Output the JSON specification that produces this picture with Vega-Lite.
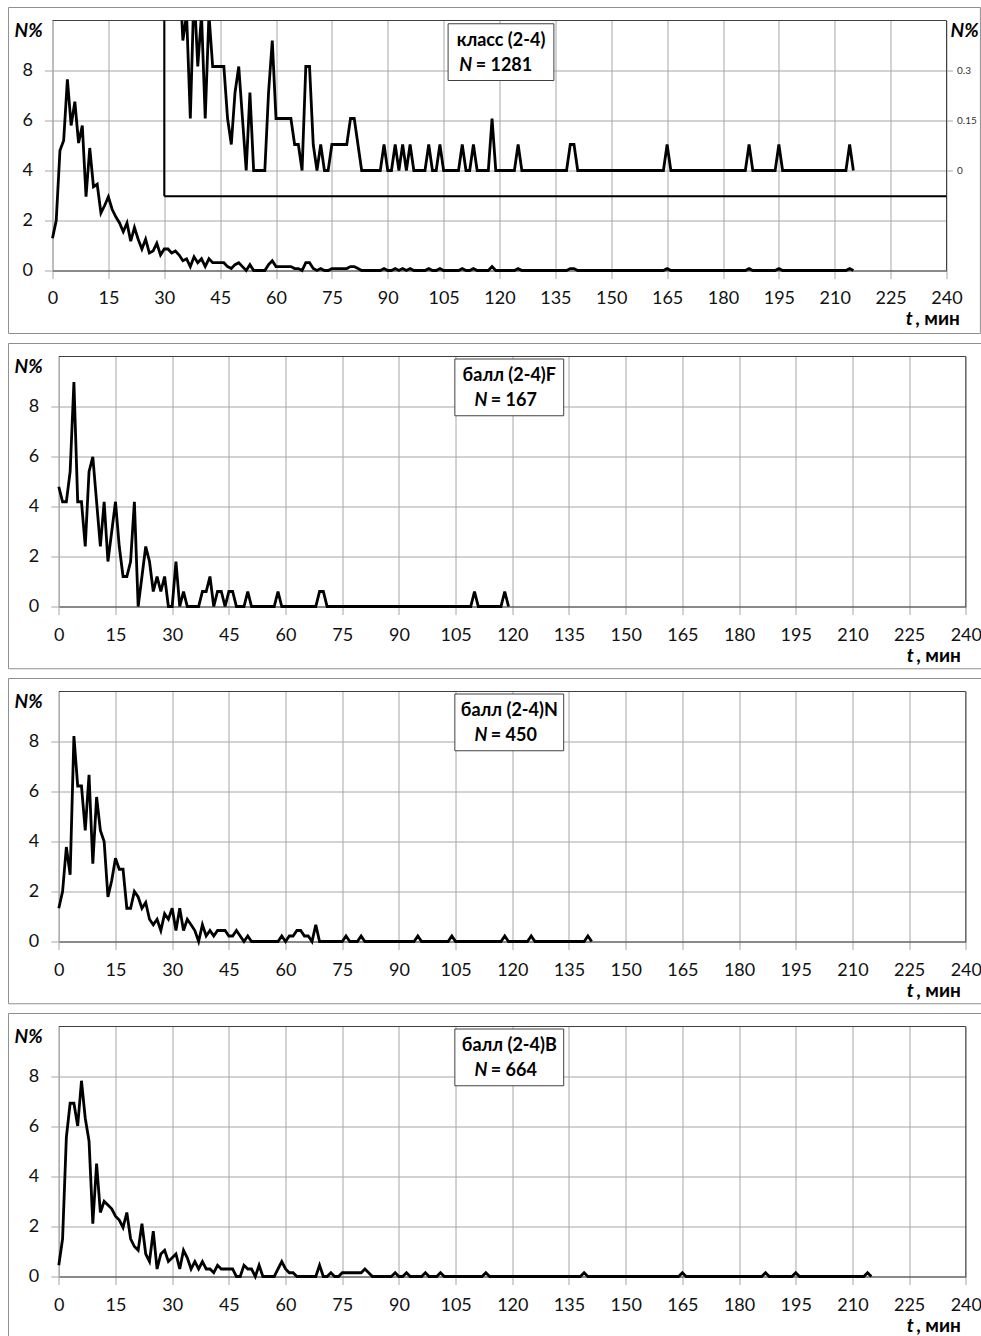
{
  "$schema": "https://vega.github.io/schema/vega-lite/v6.json",
  "padding": {"left": 7.5, "top": 6.5, "right": 0, "bottom": 0},
  "background": "white",
  "config": {
    "view": {"stroke": null},
    "font": "Lato",
    "text": {"font": "Lato", "fontWeight": "bold", "fontSize": 18, "color": "#000", "baseline": "middle"}
  },
  "datasets": {
    "p1": [{"t":0,"v":1.29},{"t":1,"v":2.0},{"t":2,"v":4.8},{"t":3,"v":5.2},{"t":4,"v":7.65},{"t":5,"v":5.8},{"t":6,"v":6.75},{"t":7,"v":5.1},{"t":8,"v":5.8},{"t":9,"v":2.95},{"t":10,"v":4.9},{"t":11,"v":3.35},{"t":12,"v":3.45},{"t":13,"v":2.3},{"t":14,"v":2.6},{"t":15,"v":2.95},{"t":16,"v":2.45},{"t":17,"v":2.15},{"t":18,"v":1.9},{"t":19,"v":1.55},{"t":20,"v":1.9},{"t":21,"v":1.17},{"t":22,"v":1.72},{"t":23,"v":1.25},{"t":24,"v":0.86},{"t":25,"v":1.25},{"t":26,"v":0.7},{"t":27,"v":0.78},{"t":28,"v":1.09},{"t":29,"v":0.62},{"t":30,"v":0.86},{"t":31,"v":0.86},{"t":32,"v":0.7},{"t":33,"v":0.78},{"t":34,"v":0.62},{"t":35,"v":0.39},{"t":36,"v":0.468},{"t":37,"v":0.156},{"t":38,"v":0.546},{"t":39,"v":0.312},{"t":40,"v":0.468},{"t":41,"v":0.156},{"t":42,"v":0.468},{"t":43,"v":0.312},{"t":44,"v":0.312},{"t":45,"v":0.312},{"t":46,"v":0.312},{"t":47,"v":0.156},{"t":48,"v":0.078},{"t":49,"v":0.234},{"t":50,"v":0.312},{"t":51,"v":0.156},{"t":52,"v":0},{"t":53,"v":0.234},{"t":54,"v":0},{"t":55,"v":0},{"t":56,"v":0},{"t":57,"v":0},{"t":58,"v":0.234},{"t":59,"v":0.39},{"t":60,"v":0.156},{"t":61,"v":0.156},{"t":62,"v":0.156},{"t":63,"v":0.156},{"t":64,"v":0.156},{"t":65,"v":0.078},{"t":66,"v":0.078},{"t":67,"v":0},{"t":68,"v":0.312},{"t":69,"v":0.312},{"t":70,"v":0.078},{"t":71,"v":0},{"t":72,"v":0.078},{"t":73,"v":0},{"t":74,"v":0},{"t":75,"v":0.078},{"t":76,"v":0.078},{"t":77,"v":0.078},{"t":78,"v":0.078},{"t":79,"v":0.078},{"t":80,"v":0.156},{"t":81,"v":0.156},{"t":82,"v":0.078},{"t":83,"v":0},{"t":84,"v":0},{"t":85,"v":0},{"t":86,"v":0},{"t":87,"v":0},{"t":88,"v":0},{"t":89,"v":0.078},{"t":90,"v":0},{"t":91,"v":0},{"t":92,"v":0.078},{"t":93,"v":0},{"t":94,"v":0.078},{"t":95,"v":0},{"t":96,"v":0.078},{"t":97,"v":0},{"t":98,"v":0},{"t":99,"v":0},{"t":100,"v":0},{"t":101,"v":0.078},{"t":102,"v":0},{"t":103,"v":0},{"t":104,"v":0.078},{"t":105,"v":0},{"t":106,"v":0},{"t":107,"v":0},{"t":108,"v":0},{"t":109,"v":0},{"t":110,"v":0.078},{"t":111,"v":0},{"t":112,"v":0},{"t":113,"v":0.078},{"t":114,"v":0},{"t":115,"v":0},{"t":116,"v":0},{"t":117,"v":0},{"t":118,"v":0.156},{"t":119,"v":0},{"t":120,"v":0},{"t":121,"v":0},{"t":122,"v":0},{"t":123,"v":0},{"t":124,"v":0},{"t":125,"v":0.078},{"t":126,"v":0},{"t":127,"v":0},{"t":128,"v":0},{"t":129,"v":0},{"t":130,"v":0},{"t":131,"v":0},{"t":132,"v":0},{"t":133,"v":0},{"t":134,"v":0},{"t":135,"v":0},{"t":136,"v":0},{"t":137,"v":0},{"t":138,"v":0},{"t":139,"v":0.078},{"t":140,"v":0.078},{"t":141,"v":0},{"t":142,"v":0},{"t":143,"v":0},{"t":144,"v":0},{"t":145,"v":0},{"t":146,"v":0},{"t":147,"v":0},{"t":148,"v":0},{"t":149,"v":0},{"t":150,"v":0},{"t":151,"v":0},{"t":152,"v":0},{"t":153,"v":0},{"t":154,"v":0},{"t":155,"v":0},{"t":156,"v":0},{"t":157,"v":0},{"t":158,"v":0},{"t":159,"v":0},{"t":160,"v":0},{"t":161,"v":0},{"t":162,"v":0},{"t":163,"v":0},{"t":164,"v":0},{"t":165,"v":0.078},{"t":166,"v":0},{"t":167,"v":0},{"t":168,"v":0},{"t":169,"v":0},{"t":170,"v":0},{"t":171,"v":0},{"t":172,"v":0},{"t":173,"v":0},{"t":174,"v":0},{"t":175,"v":0},{"t":176,"v":0},{"t":177,"v":0},{"t":178,"v":0},{"t":179,"v":0},{"t":180,"v":0},{"t":181,"v":0},{"t":182,"v":0},{"t":183,"v":0},{"t":184,"v":0},{"t":185,"v":0},{"t":186,"v":0},{"t":187,"v":0.078},{"t":188,"v":0},{"t":189,"v":0},{"t":190,"v":0},{"t":191,"v":0},{"t":192,"v":0},{"t":193,"v":0},{"t":194,"v":0},{"t":195,"v":0.078},{"t":196,"v":0},{"t":197,"v":0},{"t":198,"v":0},{"t":199,"v":0},{"t":200,"v":0},{"t":201,"v":0},{"t":202,"v":0},{"t":203,"v":0},{"t":204,"v":0},{"t":205,"v":0},{"t":206,"v":0},{"t":207,"v":0},{"t":208,"v":0},{"t":209,"v":0},{"t":210,"v":0},{"t":211,"v":0},{"t":212,"v":0},{"t":213,"v":0},{"t":214,"v":0.078},{"t":215,"v":0}],
    "p2": [{"t":0,"v":4.79},{"t":1,"v":4.19},{"t":2,"v":4.19},{"t":3,"v":5.39},{"t":4,"v":8.98},{"t":5,"v":4.19},{"t":6,"v":4.19},{"t":7,"v":2.4},{"t":8,"v":5.39},{"t":9,"v":5.99},{"t":10,"v":4.19},{"t":11,"v":2.4},{"t":12,"v":4.19},{"t":13,"v":1.8},{"t":14,"v":2.99},{"t":15,"v":4.19},{"t":16,"v":2.4},{"t":17,"v":1.2},{"t":18,"v":1.2},{"t":19,"v":1.8},{"t":20,"v":4.19},{"t":21,"v":0},{"t":22,"v":1.2},{"t":23,"v":2.4},{"t":24,"v":1.8},{"t":25,"v":0.6},{"t":26,"v":1.2},{"t":27,"v":0.6},{"t":28,"v":1.2},{"t":29,"v":0},{"t":30,"v":0},{"t":31,"v":1.8},{"t":32,"v":0},{"t":33,"v":0.6},{"t":34,"v":0},{"t":35,"v":0},{"t":36,"v":0},{"t":37,"v":0},{"t":38,"v":0.6},{"t":39,"v":0.6},{"t":40,"v":1.2},{"t":41,"v":0},{"t":42,"v":0.6},{"t":43,"v":0.6},{"t":44,"v":0},{"t":45,"v":0.6},{"t":46,"v":0.6},{"t":47,"v":0},{"t":48,"v":0},{"t":49,"v":0},{"t":50,"v":0.6},{"t":51,"v":0},{"t":52,"v":0},{"t":53,"v":0},{"t":54,"v":0},{"t":55,"v":0},{"t":56,"v":0},{"t":57,"v":0},{"t":58,"v":0.6},{"t":59,"v":0},{"t":60,"v":0},{"t":61,"v":0},{"t":62,"v":0},{"t":63,"v":0},{"t":64,"v":0},{"t":65,"v":0},{"t":66,"v":0},{"t":67,"v":0},{"t":68,"v":0},{"t":69,"v":0.6},{"t":70,"v":0.6},{"t":71,"v":0},{"t":72,"v":0},{"t":73,"v":0},{"t":74,"v":0},{"t":75,"v":0},{"t":76,"v":0},{"t":77,"v":0},{"t":78,"v":0},{"t":79,"v":0},{"t":80,"v":0},{"t":81,"v":0},{"t":82,"v":0},{"t":83,"v":0},{"t":84,"v":0},{"t":85,"v":0},{"t":86,"v":0},{"t":87,"v":0},{"t":88,"v":0},{"t":89,"v":0},{"t":90,"v":0},{"t":91,"v":0},{"t":92,"v":0},{"t":93,"v":0},{"t":94,"v":0},{"t":95,"v":0},{"t":96,"v":0},{"t":97,"v":0},{"t":98,"v":0},{"t":99,"v":0},{"t":100,"v":0},{"t":101,"v":0},{"t":102,"v":0},{"t":103,"v":0},{"t":104,"v":0},{"t":105,"v":0},{"t":106,"v":0},{"t":107,"v":0},{"t":108,"v":0},{"t":109,"v":0},{"t":110,"v":0.6},{"t":111,"v":0},{"t":112,"v":0},{"t":113,"v":0},{"t":114,"v":0},{"t":115,"v":0},{"t":116,"v":0},{"t":117,"v":0},{"t":118,"v":0.6},{"t":119,"v":0}],
    "p3": [{"t":0,"v":1.33},{"t":1,"v":2.0},{"t":2,"v":3.78},{"t":3,"v":2.67},{"t":4,"v":8.22},{"t":5,"v":6.22},{"t":6,"v":6.22},{"t":7,"v":4.44},{"t":8,"v":6.67},{"t":9,"v":3.11},{"t":10,"v":5.78},{"t":11,"v":4.44},{"t":12,"v":4.0},{"t":13,"v":1.78},{"t":14,"v":2.44},{"t":15,"v":3.33},{"t":16,"v":2.89},{"t":17,"v":2.89},{"t":18,"v":1.33},{"t":19,"v":1.33},{"t":20,"v":2.0},{"t":21,"v":1.78},{"t":22,"v":1.33},{"t":23,"v":1.56},{"t":24,"v":0.89},{"t":25,"v":0.67},{"t":26,"v":0.89},{"t":27,"v":0.44},{"t":28,"v":1.11},{"t":29,"v":0.89},{"t":30,"v":1.33},{"t":31,"v":0.44},{"t":32,"v":1.33},{"t":33,"v":0.44},{"t":34,"v":0.89},{"t":35,"v":0.67},{"t":36,"v":0.44},{"t":37,"v":0},{"t":38,"v":0.67},{"t":39,"v":0.22},{"t":40,"v":0.44},{"t":41,"v":0.22},{"t":42,"v":0.44},{"t":43,"v":0.44},{"t":44,"v":0.44},{"t":45,"v":0.22},{"t":46,"v":0.22},{"t":47,"v":0.44},{"t":48,"v":0.22},{"t":49,"v":0},{"t":50,"v":0.22},{"t":51,"v":0},{"t":52,"v":0},{"t":53,"v":0},{"t":54,"v":0},{"t":55,"v":0},{"t":56,"v":0},{"t":57,"v":0},{"t":58,"v":0},{"t":59,"v":0.22},{"t":60,"v":0},{"t":61,"v":0.22},{"t":62,"v":0.22},{"t":63,"v":0.44},{"t":64,"v":0.44},{"t":65,"v":0.22},{"t":66,"v":0.22},{"t":67,"v":0},{"t":68,"v":0.67},{"t":69,"v":0},{"t":70,"v":0},{"t":71,"v":0},{"t":72,"v":0},{"t":73,"v":0},{"t":74,"v":0},{"t":75,"v":0},{"t":76,"v":0.22},{"t":77,"v":0},{"t":78,"v":0},{"t":79,"v":0},{"t":80,"v":0.22},{"t":81,"v":0},{"t":82,"v":0},{"t":83,"v":0},{"t":84,"v":0},{"t":85,"v":0},{"t":86,"v":0},{"t":87,"v":0},{"t":88,"v":0},{"t":89,"v":0},{"t":90,"v":0},{"t":91,"v":0},{"t":92,"v":0},{"t":93,"v":0},{"t":94,"v":0},{"t":95,"v":0.22},{"t":96,"v":0},{"t":97,"v":0},{"t":98,"v":0},{"t":99,"v":0},{"t":100,"v":0},{"t":101,"v":0},{"t":102,"v":0},{"t":103,"v":0},{"t":104,"v":0.22},{"t":105,"v":0},{"t":106,"v":0},{"t":107,"v":0},{"t":108,"v":0},{"t":109,"v":0},{"t":110,"v":0},{"t":111,"v":0},{"t":112,"v":0},{"t":113,"v":0},{"t":114,"v":0},{"t":115,"v":0},{"t":116,"v":0},{"t":117,"v":0},{"t":118,"v":0.22},{"t":119,"v":0},{"t":120,"v":0},{"t":121,"v":0},{"t":122,"v":0},{"t":123,"v":0},{"t":124,"v":0},{"t":125,"v":0.22},{"t":126,"v":0},{"t":127,"v":0},{"t":128,"v":0},{"t":129,"v":0},{"t":130,"v":0},{"t":131,"v":0},{"t":132,"v":0},{"t":133,"v":0},{"t":134,"v":0},{"t":135,"v":0},{"t":136,"v":0},{"t":137,"v":0},{"t":138,"v":0},{"t":139,"v":0},{"t":140,"v":0.22},{"t":141,"v":0}],
    "p4": [{"t":0,"v":0.45},{"t":1,"v":1.51},{"t":2,"v":5.57},{"t":3,"v":6.93},{"t":4,"v":6.93},{"t":5,"v":6.02},{"t":6,"v":7.83},{"t":7,"v":6.33},{"t":8,"v":5.42},{"t":9,"v":2.11},{"t":10,"v":4.52},{"t":11,"v":2.56},{"t":12,"v":3.01},{"t":13,"v":2.86},{"t":14,"v":2.71},{"t":15,"v":2.41},{"t":16,"v":2.26},{"t":17,"v":1.96},{"t":18,"v":2.56},{"t":19,"v":1.51},{"t":20,"v":1.2},{"t":21,"v":1.05},{"t":22,"v":2.11},{"t":23,"v":0.9},{"t":24,"v":0.6},{"t":25,"v":1.81},{"t":26,"v":0.3},{"t":27,"v":0.9},{"t":28,"v":1.05},{"t":29,"v":0.6},{"t":30,"v":0.75},{"t":31,"v":0.9},{"t":32,"v":0.3},{"t":33,"v":1.05},{"t":34,"v":0.75},{"t":35,"v":0.3},{"t":36,"v":0.6},{"t":37,"v":0.3},{"t":38,"v":0.6},{"t":39,"v":0.3},{"t":40,"v":0.3},{"t":41,"v":0.15},{"t":42,"v":0.45},{"t":43,"v":0.3},{"t":44,"v":0.3},{"t":45,"v":0.3},{"t":46,"v":0.3},{"t":47,"v":0},{"t":48,"v":0},{"t":49,"v":0.45},{"t":50,"v":0.3},{"t":51,"v":0.3},{"t":52,"v":0},{"t":53,"v":0.45},{"t":54,"v":0},{"t":55,"v":0},{"t":56,"v":0},{"t":57,"v":0},{"t":58,"v":0.3},{"t":59,"v":0.6},{"t":60,"v":0.3},{"t":61,"v":0.15},{"t":62,"v":0.15},{"t":63,"v":0},{"t":64,"v":0},{"t":65,"v":0},{"t":66,"v":0},{"t":67,"v":0},{"t":68,"v":0},{"t":69,"v":0.45},{"t":70,"v":0},{"t":71,"v":0},{"t":72,"v":0.15},{"t":73,"v":0},{"t":74,"v":0},{"t":75,"v":0.15},{"t":76,"v":0.15},{"t":77,"v":0.15},{"t":78,"v":0.15},{"t":79,"v":0.15},{"t":80,"v":0.15},{"t":81,"v":0.3},{"t":82,"v":0.15},{"t":83,"v":0},{"t":84,"v":0},{"t":85,"v":0},{"t":86,"v":0},{"t":87,"v":0},{"t":88,"v":0},{"t":89,"v":0.15},{"t":90,"v":0},{"t":91,"v":0},{"t":92,"v":0.15},{"t":93,"v":0},{"t":94,"v":0},{"t":95,"v":0},{"t":96,"v":0},{"t":97,"v":0.15},{"t":98,"v":0},{"t":99,"v":0},{"t":100,"v":0},{"t":101,"v":0.15},{"t":102,"v":0},{"t":103,"v":0},{"t":104,"v":0},{"t":105,"v":0},{"t":106,"v":0},{"t":107,"v":0},{"t":108,"v":0},{"t":109,"v":0},{"t":110,"v":0},{"t":111,"v":0},{"t":112,"v":0},{"t":113,"v":0.15},{"t":114,"v":0},{"t":115,"v":0},{"t":116,"v":0},{"t":117,"v":0},{"t":118,"v":0},{"t":119,"v":0},{"t":120,"v":0},{"t":121,"v":0},{"t":122,"v":0},{"t":123,"v":0},{"t":124,"v":0},{"t":125,"v":0},{"t":126,"v":0},{"t":127,"v":0},{"t":128,"v":0},{"t":129,"v":0},{"t":130,"v":0},{"t":131,"v":0},{"t":132,"v":0},{"t":133,"v":0},{"t":134,"v":0},{"t":135,"v":0},{"t":136,"v":0},{"t":137,"v":0},{"t":138,"v":0},{"t":139,"v":0.15},{"t":140,"v":0},{"t":141,"v":0},{"t":142,"v":0},{"t":143,"v":0},{"t":144,"v":0},{"t":145,"v":0},{"t":146,"v":0},{"t":147,"v":0},{"t":148,"v":0},{"t":149,"v":0},{"t":150,"v":0},{"t":151,"v":0},{"t":152,"v":0},{"t":153,"v":0},{"t":154,"v":0},{"t":155,"v":0},{"t":156,"v":0},{"t":157,"v":0},{"t":158,"v":0},{"t":159,"v":0},{"t":160,"v":0},{"t":161,"v":0},{"t":162,"v":0},{"t":163,"v":0},{"t":164,"v":0},{"t":165,"v":0.15},{"t":166,"v":0},{"t":167,"v":0},{"t":168,"v":0},{"t":169,"v":0},{"t":170,"v":0},{"t":171,"v":0},{"t":172,"v":0},{"t":173,"v":0},{"t":174,"v":0},{"t":175,"v":0},{"t":176,"v":0},{"t":177,"v":0},{"t":178,"v":0},{"t":179,"v":0},{"t":180,"v":0},{"t":181,"v":0},{"t":182,"v":0},{"t":183,"v":0},{"t":184,"v":0},{"t":185,"v":0},{"t":186,"v":0},{"t":187,"v":0.15},{"t":188,"v":0},{"t":189,"v":0},{"t":190,"v":0},{"t":191,"v":0},{"t":192,"v":0},{"t":193,"v":0},{"t":194,"v":0},{"t":195,"v":0.15},{"t":196,"v":0},{"t":197,"v":0},{"t":198,"v":0},{"t":199,"v":0},{"t":200,"v":0},{"t":201,"v":0},{"t":202,"v":0},{"t":203,"v":0},{"t":204,"v":0},{"t":205,"v":0},{"t":206,"v":0},{"t":207,"v":0},{"t":208,"v":0},{"t":209,"v":0},{"t":210,"v":0},{"t":211,"v":0},{"t":212,"v":0},{"t":213,"v":0},{"t":214,"v":0.15},{"t":215,"v":0}]
  },
  "spacing": 8,
  "vconcat": [
    {
      "width": 894, "height": 250,
      "resolve": {"scale": {"y": "independent"}},
      "layer": [
        {
          "layer": [
            {"data": {"name": "p1"}, "mark": {"type": "line", "color": "#000", "strokeWidth": 2.8},
             "encoding": {
               "x": {"field": "t", "type": "quantitative", "scale": {"domain": [0, 240], "nice": false, "zero": false},
                     "axis": {"values": [0,15,30,45,60,75,90,105,120,135,150,165,180,195,210,225,240], "grid": true, "gridColor": "#a6a6a6", "tickColor": "#a6a6a6", "tickSize": 8, "domainColor": "#404040", "labelFont": "Lato", "labelFontSize": 18, "labelColor": "#111", "labelPadding": 11, "labelFlush": false, "labelOverlap": false, "title": null}},
               "y": {"field": "v", "type": "quantitative", "scale": {"domain": [0, 10], "nice": false, "zero": false},
                     "axis": {"values": [0,2,4,6,8], "grid": true, "gridColor": "#a6a6a6", "tickColor": "#a6a6a6", "tickSize": 8, "domainColor": "#a6a6a6", "labelFont": "Lato", "labelFontSize": 18, "labelColor": "#111", "labelPadding": 12, "title": null}}
             }},
            {"data": {"values": [{}]}, "mark": {"type": "rect", "fill": null, "stroke": "#8f8f8f", "strokeWidth": 1, "clip": false},
             "encoding": {"x": {"datum": -11.8}, "x2": {"datum": 249.1}, "y": {"datum": 10.52}, "y2": {"datum": -2.52}}},
            {"data": {"values": [{}]}, "mark": {"type": "rule", "color": "#404040", "strokeWidth": 1},
             "encoding": {"x": {"datum": 0}, "x2": {"datum": 240}, "y": {"datum": 10}}},
            {"data": {"values": [{}]}, "mark": {"type": "rule", "color": "#404040", "strokeWidth": 1},
             "encoding": {"x": {"datum": 240}, "y": {"datum": 0}, "y2": {"datum": 10}}},
            {"data": {"values": [{}]}, "mark": {"type": "rect", "fill": "white", "stroke": "#404040", "strokeWidth": 1},
             "encoding": {"x": {"datum": 106.2}, "x2": {"datum": 134.6}, "y": {"datum": 9.87}, "y2": {"datum": 7.6}}},
            {"data": {"values": [{}]}, "mark": {"type": "text", "text": "класс (2-4)", "align": "center"},
             "encoding": {"x": {"datum": 120.4}, "y": {"datum": 9.2}}},
            {"data": {"values": [{}]}, "mark": {"type": "text", "text": "N", "align": "right", "fontStyle": "italic"},
             "encoding": {"x": {"datum": 112.66}, "y": {"datum": 8.2}}},
            {"data": {"values": [{}]}, "mark": {"type": "text", "text": "= 1281", "align": "left"},
             "encoding": {"x": {"datum": 113.6}, "y": {"datum": 8.2}}},
            {"data": {"values": [{}]}, "mark": {"type": "text", "text": "N%", "align": "left", "fontStyle": "italic", "fontSize": 19},
             "encoding": {"x": {"datum": -10.2}, "y": {"datum": 9.6}}},
            {"data": {"values": [{}]}, "mark": {"type": "text", "text": "N%", "align": "left", "fontStyle": "italic", "fontSize": 19},
             "encoding": {"x": {"datum": 241.1}, "y": {"datum": 9.6}}},
            {"data": {"values": [{}]}, "mark": {"type": "text", "text": "t", "align": "right", "fontStyle": "italic", "fontSize": 19},
             "encoding": {"x": {"datum": 230.9}, "y": {"datum": -1.95}}},
            {"data": {"values": [{}]}, "mark": {"type": "text", "text": ", мин", "align": "left", "fontSize": 19},
             "encoding": {"x": {"datum": 231.6}, "y": {"datum": -1.95}}}
          ]
        },
        {
          "layer": [
            {"data": {"name": "p1"}, "transform": [{"filter": "datum.t >= 30"}],
             "mark": {"type": "line", "color": "#000", "strokeWidth": 2.8, "clip": true},
             "encoding": {
               "x": {"field": "t", "type": "quantitative"},
               "y": {"field": "v", "type": "quantitative", "scale": {"domain": [-0.3, 0.45], "nice": false, "zero": false},
                     "axis": {"orient": "right", "values": [0, 0.15, 0.3], "labelExpr": "datum.value == 0 ? '0' : (datum.value < 0.2 ? '0.15' : '0.3')", "grid": false, "domain": false, "tickColor": "#a6a6a6", "tickSize": 6, "labelFont": "Lato", "labelFontSize": 10, "labelColor": "#333", "labelPadding": 4, "labelLimit": 40, "title": null}}
             }},
            {"data": {"values": [{}]}, "mark": {"type": "rule", "color": "#000", "strokeWidth": 2},
             "encoding": {"x": {"datum": 30}, "y": {"datum": 0.45}, "y2": {"datum": -0.077}}},
            {"data": {"values": [{}]}, "mark": {"type": "rule", "color": "#000", "strokeWidth": 2},
             "encoding": {"x": {"datum": 30}, "x2": {"datum": 240}, "y": {"datum": -0.077}}}
          ]
        }
      ]
    },
    {
      "width": 913.6, "height": 250,
      "layer": [
        {"data": {"name": "p2"}, "mark": {"type": "line", "color": "#000", "strokeWidth": 2.8},
         "encoding": {
           "x": {"field": "t", "type": "quantitative", "scale": {"domain": [0, 240], "range": [6.3, 913.3], "nice": false, "zero": false},
                 "axis": {"values": [0,15,30,45,60,75,90,105,120,135,150,165,180,195,210,225,240], "grid": true, "gridColor": "#a6a6a6", "tickColor": "#a6a6a6", "tickSize": 8, "domainColor": "#404040", "labelFont": "Lato", "labelFontSize": 18, "labelColor": "#111", "labelPadding": 12, "labelFlush": false, "labelOverlap": false, "title": null}},
           "y": {"field": "v", "type": "quantitative", "scale": {"domain": [0, 10], "nice": false, "zero": false},
                 "axis": {"values": [0,2,4,6,8], "offset": -6.3, "grid": true, "gridColor": "#a6a6a6", "tickColor": "#a6a6a6", "tickSize": 8, "domainColor": "#a6a6a6", "labelFont": "Lato", "labelFontSize": 18, "labelColor": "#111", "labelPadding": 12, "title": null}}
         }},
        {"data": {"values": [{}]}, "mark": {"type": "rect", "fill": null, "stroke": "#8f8f8f", "strokeWidth": 1, "clip": false},
         "encoding": {"x": {"datum": -13.31}, "x2": {"datum": 244.3}, "y": {"datum": 10.52}, "y2": {"datum": -2.49}}},
        {"data": {"values": [{}]}, "mark": {"type": "rule", "color": "#404040", "strokeWidth": 1},
         "encoding": {"x": {"datum": 0}, "x2": {"datum": 240}, "y": {"datum": 10}}},
        {"data": {"values": [{}]}, "mark": {"type": "rule", "color": "#404040", "strokeWidth": 1},
         "encoding": {"x": {"datum": 240}, "y": {"datum": 0}, "y2": {"datum": 10}}},
        {"data": {"values": [{}]}, "mark": {"type": "rect", "fill": "white", "stroke": "#404040", "strokeWidth": 1},
         "encoding": {"x": {"datum": 104.8}, "x2": {"datum": 133.6}, "y": {"datum": 9.9}, "y2": {"datum": 7.63}}},
        {"data": {"values": [{}]}, "mark": {"type": "text", "text": "балл (2-4)F", "align": "center"},
         "encoding": {"x": {"datum": 119.2}, "y": {"datum": 9.23}}},
        {"data": {"values": [{}]}, "mark": {"type": "text", "text": "N", "align": "right", "fontStyle": "italic"},
         "encoding": {"x": {"datum": 113.45}, "y": {"datum": 8.23}}},
        {"data": {"values": [{}]}, "mark": {"type": "text", "text": "= 167", "align": "left"},
         "encoding": {"x": {"datum": 114.3}, "y": {"datum": 8.23}}},
        {"data": {"values": [{}]}, "mark": {"type": "text", "text": "N%", "align": "left", "fontStyle": "italic", "fontSize": 19},
         "encoding": {"x": {"datum": -11.72}, "y": {"datum": 9.6}}},
        {"data": {"values": [{}]}, "mark": {"type": "text", "text": "t", "align": "right", "fontStyle": "italic", "fontSize": 19},
         "encoding": {"x": {"datum": 226.2}, "y": {"datum": -1.96}}},
        {"data": {"values": [{}]}, "mark": {"type": "text", "text": ", мин", "align": "left", "fontSize": 19},
         "encoding": {"x": {"datum": 226.9}, "y": {"datum": -1.96}}}
      ]
    },
    {
      "width": 913.6, "height": 250,
      "layer": [
        {"data": {"name": "p3"}, "mark": {"type": "line", "color": "#000", "strokeWidth": 2.8},
         "encoding": {
           "x": {"field": "t", "type": "quantitative", "scale": {"domain": [0, 240], "range": [6.3, 913.3], "nice": false, "zero": false},
                 "axis": {"values": [0,15,30,45,60,75,90,105,120,135,150,165,180,195,210,225,240], "grid": true, "gridColor": "#a6a6a6", "tickColor": "#a6a6a6", "tickSize": 8, "domainColor": "#404040", "labelFont": "Lato", "labelFontSize": 18, "labelColor": "#111", "labelPadding": 12, "labelFlush": false, "labelOverlap": false, "title": null}},
           "y": {"field": "v", "type": "quantitative", "scale": {"domain": [0, 10], "nice": false, "zero": false},
                 "axis": {"values": [0,2,4,6,8], "offset": -6.3, "grid": true, "gridColor": "#a6a6a6", "tickColor": "#a6a6a6", "tickSize": 8, "domainColor": "#a6a6a6", "labelFont": "Lato", "labelFontSize": 18, "labelColor": "#111", "labelPadding": 12, "title": null}}
         }},
        {"data": {"values": [{}]}, "mark": {"type": "rect", "fill": null, "stroke": "#8f8f8f", "strokeWidth": 1, "clip": false},
         "encoding": {"x": {"datum": -13.31}, "x2": {"datum": 244.3}, "y": {"datum": 10.52}, "y2": {"datum": -2.49}}},
        {"data": {"values": [{}]}, "mark": {"type": "rule", "color": "#404040", "strokeWidth": 1},
         "encoding": {"x": {"datum": 0}, "x2": {"datum": 240}, "y": {"datum": 10}}},
        {"data": {"values": [{}]}, "mark": {"type": "rule", "color": "#404040", "strokeWidth": 1},
         "encoding": {"x": {"datum": 240}, "y": {"datum": 0}, "y2": {"datum": 10}}},
        {"data": {"values": [{}]}, "mark": {"type": "rect", "fill": "white", "stroke": "#404040", "strokeWidth": 1},
         "encoding": {"x": {"datum": 104.8}, "x2": {"datum": 133.6}, "y": {"datum": 9.9}, "y2": {"datum": 7.63}}},
        {"data": {"values": [{}]}, "mark": {"type": "text", "text": "балл (2-4)N", "align": "center"},
         "encoding": {"x": {"datum": 119.2}, "y": {"datum": 9.23}}},
        {"data": {"values": [{}]}, "mark": {"type": "text", "text": "N", "align": "right", "fontStyle": "italic"},
         "encoding": {"x": {"datum": 113.45}, "y": {"datum": 8.23}}},
        {"data": {"values": [{}]}, "mark": {"type": "text", "text": "= 450", "align": "left"},
         "encoding": {"x": {"datum": 114.3}, "y": {"datum": 8.23}}},
        {"data": {"values": [{}]}, "mark": {"type": "text", "text": "N%", "align": "left", "fontStyle": "italic", "fontSize": 19},
         "encoding": {"x": {"datum": -11.72}, "y": {"datum": 9.6}}},
        {"data": {"values": [{}]}, "mark": {"type": "text", "text": "t", "align": "right", "fontStyle": "italic", "fontSize": 19},
         "encoding": {"x": {"datum": 226.2}, "y": {"datum": -1.96}}},
        {"data": {"values": [{}]}, "mark": {"type": "text", "text": ", мин", "align": "left", "fontSize": 19},
         "encoding": {"x": {"datum": 226.9}, "y": {"datum": -1.96}}}
      ]
    },
    {
      "width": 913.6, "height": 250,
      "layer": [
        {"data": {"name": "p4"}, "mark": {"type": "line", "color": "#000", "strokeWidth": 2.8},
         "encoding": {
           "x": {"field": "t", "type": "quantitative", "scale": {"domain": [0, 240], "range": [6.3, 913.3], "nice": false, "zero": false},
                 "axis": {"values": [0,15,30,45,60,75,90,105,120,135,150,165,180,195,210,225,240], "grid": true, "gridColor": "#a6a6a6", "tickColor": "#a6a6a6", "tickSize": 8, "domainColor": "#404040", "labelFont": "Lato", "labelFontSize": 18, "labelColor": "#111", "labelPadding": 12, "labelFlush": false, "labelOverlap": false, "title": null}},
           "y": {"field": "v", "type": "quantitative", "scale": {"domain": [0, 10], "nice": false, "zero": false},
                 "axis": {"values": [0,2,4,6,8], "offset": -6.3, "grid": true, "gridColor": "#a6a6a6", "tickColor": "#a6a6a6", "tickSize": 8, "domainColor": "#a6a6a6", "labelFont": "Lato", "labelFontSize": 18, "labelColor": "#111", "labelPadding": 12, "title": null}}
         }},
        {"data": {"values": [{}]}, "mark": {"type": "rect", "fill": null, "stroke": "#8f8f8f", "strokeWidth": 1, "clip": false},
         "encoding": {"x": {"datum": -13.31}, "x2": {"datum": 244.3}, "y": {"datum": 10.52}, "y2": {"datum": -2.5}}},
        {"data": {"values": [{}]}, "mark": {"type": "rule", "color": "#404040", "strokeWidth": 1},
         "encoding": {"x": {"datum": 0}, "x2": {"datum": 240}, "y": {"datum": 10}}},
        {"data": {"values": [{}]}, "mark": {"type": "rule", "color": "#404040", "strokeWidth": 1},
         "encoding": {"x": {"datum": 240}, "y": {"datum": 0}, "y2": {"datum": 10}}},
        {"data": {"values": [{}]}, "mark": {"type": "rect", "fill": "white", "stroke": "#404040", "strokeWidth": 1},
         "encoding": {"x": {"datum": 104.8}, "x2": {"datum": 133.6}, "y": {"datum": 9.9}, "y2": {"datum": 7.63}}},
        {"data": {"values": [{}]}, "mark": {"type": "text", "text": "балл (2-4)B", "align": "center"},
         "encoding": {"x": {"datum": 119.2}, "y": {"datum": 9.23}}},
        {"data": {"values": [{}]}, "mark": {"type": "text", "text": "N", "align": "right", "fontStyle": "italic"},
         "encoding": {"x": {"datum": 113.45}, "y": {"datum": 8.23}}},
        {"data": {"values": [{}]}, "mark": {"type": "text", "text": "= 664", "align": "left"},
         "encoding": {"x": {"datum": 114.3}, "y": {"datum": 8.23}}},
        {"data": {"values": [{}]}, "mark": {"type": "text", "text": "N%", "align": "left", "fontStyle": "italic", "fontSize": 19},
         "encoding": {"x": {"datum": -11.72}, "y": {"datum": 9.6}}},
        {"data": {"values": [{}]}, "mark": {"type": "text", "text": "t", "align": "right", "fontStyle": "italic", "fontSize": 19},
         "encoding": {"x": {"datum": 226.2}, "y": {"datum": -1.96}}},
        {"data": {"values": [{}]}, "mark": {"type": "text", "text": ", мин", "align": "left", "fontSize": 19},
         "encoding": {"x": {"datum": 226.9}, "y": {"datum": -1.96}}}
      ]
    }
  ]
}
